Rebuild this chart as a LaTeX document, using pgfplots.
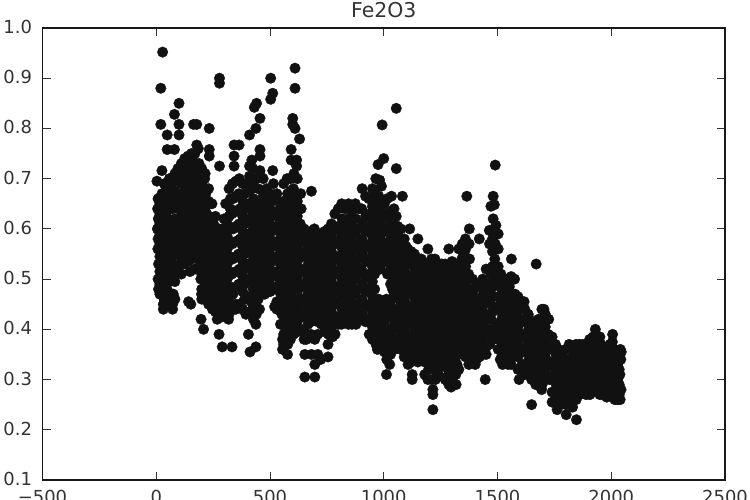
\documentclass[border=0pt]{standalone}
\usepackage{pgfplots}
\pgfplotsset{compat=1.18}
\usepackage{fontspec}
\setmainfont{DejaVu Sans}
\definecolor{txt}{HTML}{333333}
\definecolor{dot}{HTML}{111111}
\begin{document}
\begin{tikzpicture}[x=1bp,y=1bp]
\useasboundingbox (0,0) rectangle (750,500);
\begin{axis}[
  at={(42.5bp,20bp)},anchor=south west,
  scale only axis,width=682.5bp,height=452bp,
  xmin=-500,xmax=2500,ymin=0.1,ymax=1.0,
  xtick={-500,0,500,1000,1500,2000,2500},
  xticklabels={−500,0,500,1000,1500,2000,2500},
  ytick={0.1,0.2,0.3,0.4,0.5,0.6,0.7,0.8,0.9,1.0},
  yticklabels={0.1,0.2,0.3,0.4,0.5,0.6,0.7,0.8,0.9,1.0},
  tick align=inside,major tick length=8bp,
  tick style={draw=black!80,line width=0.8bp},
  axis line style={draw=black!90,line width=1.3bp},
  ticklabel style={font=\fontsize{18}{20}\selectfont,text=txt},
  yticklabel style={xshift=-7bp,yshift=1bp},
  xticklabel style={yshift=-7bp},
  title={Fe2O3},
  title style={font=\fontsize{20.5}{22}\selectfont,text=txt,at={(0.5,1)},anchor=base,yshift=5bp},
]
\addplot[only marks,mark=*,mark size=5.3bp,mark options={fill=dot,draw=dot,line width=0.3bp}] coordinates {
(28,.952)(20,.88)(100,.85)(80,.828)(100,.808)(100,.787)(20,.808)(48,.787)(48,.758)(80,.758)
(164,.808)(178,.808)(233,.80)(178,.767)(233,.758)(233,.745)(278,.725)(278,.90)(278,.89)
(503,.90)(512,.87)(503,.858)(441,.85)(431,.842)(456,.82)(438,.80)(410,.787)
(610,.92)(610,.88)(600,.82)(600,.808)(610,.80)(630,.779)(593,.758)(593,.737)(617,.737)(617,.725)
(682,.675)(342,.767)(364,.767)(342,.745)(342,.725)(456,.758)(456,.745)(420,.737)(410,.725)
(456,.716)(512,.716)(25,.716)(3,.695)
(31,.44)(72,.44)(31,.45)(72,.45)(10,.48)(75,.47)(142,.455)(152,.45)(148,.515)(170,.52)
(197,.42)(208,.40)(268,.42)(318,.42)(276,.39)(290,.365)(333,.365)(405,.39)(412,.355)(438,.365)(438,.41)
(477,.47)(520,.445)(555,.36)(577,.35)(555,.38)(653,.305)(697,.305)(653,.35)(682,.35)(697,.33)(755,.345)
(660,.38)(697,.38)(755,.37)(775,.385)(845,.41)(878,.41)(972,.36)(972,.38)
(1055,.84)(993,.807)(1000,.74)(975,.728)(1055,.72)(982,.697)(990,.685)(1082,.665)(1034,.665)
(1365,.665)(1490,.727)(1481,.665)(1486,.648)(1471,.645)(1481,.62)(1493,.607)(1464,.597)
(1376,.60)(1359,.58)(1420,.58)(1114,.60)(1150,.58)(1194,.56)(1286,.56)(1055,.625)(1062,.605)
(1561,.54)(1670,.53)(1617,.455)(1704,.44)(1650,.25)(1216,.24)(1847,.22)(1802,.23)(1762,.24)
(1125,.31)(1125,.30)(1012,.31)(1026,.33)(1216,.28)(1216,.27)(1296,.285)(1318,.29)(1402,.33)(1446,.30)
(1522,.33)(1595,.30)(1694,.28)(1930,.40)(2006,.39)
(8,.66)(6,.64)(9,.62)(5,.60)(8,.58)(7,.56)(10,.53)(8,.50)
(25,.67)(27,.65)(24,.61)(28,.58)(23,.55)(26,.52)(25,.49)
(45,.68)(47,.66)(43,.63)(46,.60)(44,.57)(48,.54)(45,.51)(47,.48)
(70,.69)(68,.66)(72,.64)(69,.60)(71,.57)(67,.54)(73,.51)(70,.47)
(95,.72)(97,.70)(93,.67)(96,.64)(94,.61)(98,.58)(95,.55)(92,.52)
(125,.74)(122,.71)(127,.68)(123,.65)(128,.62)(124,.59)(126,.56)(121,.53)
(155,.75)(157,.72)(153,.69)(158,.66)(154,.63)(156,.60)(152,.57)(157,.54)
(185,.76)(188,.73)(183,.70)(187,.67)(184,.64)(186,.61)(189,.58)(183,.55)(187,.52)(196,.50)(199,.47)
(215,.71)(213,.70)(218,.67)(214,.64)(216,.61)(212,.58)(217,.55)(214,.52)(216,.49)(213,.46)
(245,.65)(247,.62)(243,.59)(248,.56)(244,.53)(246,.50)(242,.47)(247,.44)
(275,.60)(273,.57)(278,.54)(274,.51)(276,.48)(272,.45)(277,.43)
(305,.65)(303,.59)(308,.56)(304,.53)(306,.50)(302,.47)(307,.44)
(335,.69)(337,.66)(333,.63)(338,.60)(334,.57)(336,.54)(332,.51)(337,.47)(334,.44)
(365,.70)(363,.67)(367,.64)(364,.61)(368,.58)(362,.55)(366,.52)(363,.49)(367,.45)
(395,.69)(397,.65)(393,.62)(396,.59)(394,.56)(398,.53)(392,.50)(396,.46)(394,.43)
(425,.72)(423,.69)(428,.66)(424,.63)(426,.60)(422,.57)(427,.54)(424,.51)(426,.48)(423,.45)(427,.42)
(455,.71)(457,.65)(453,.62)(458,.59)(454,.56)(456,.53)(452,.50)(457,.47)(454,.44)
(485,.68)(483,.65)(487,.62)(484,.59)(488,.56)(482,.53)(486,.50)
(515,.69)(517,.66)(513,.63)(518,.60)(514,.57)(516,.54)(512,.51)(517,.48)
(545,.65)(543,.62)(548,.59)(544,.56)(546,.53)(542,.50)(547,.47)(544,.44)(546,.41)
(575,.70)(577,.67)(573,.64)(578,.61)(574,.58)(576,.55)(572,.52)(577,.49)(574,.46)(576,.43)(573,.40)(578,.37)
(605,.71)(603,.68)(607,.65)(604,.62)(608,.59)(602,.56)(606,.53)(603,.50)(607,.47)(604,.44)(606,.41)(603,.39)
(635,.67)(637,.64)(633,.61)(638,.58)(634,.55)(636,.52)(632,.49)(637,.46)(634,.43)(636,.40)
(665,.59)(663,.56)(668,.53)(664,.50)(666,.47)(662,.44)(667,.41)
(695,.60)(697,.57)(693,.54)(698,.51)(694,.48)(696,.45)(692,.42)
(725,.59)(723,.56)(727,.53)(724,.50)(728,.47)(722,.44)(726,.41)(723,.34)
(755,.60)(757,.57)(753,.54)(758,.51)(754,.48)(756,.45)(752,.42)(757,.39)
(785,.63)(783,.60)(788,.57)(784,.54)(786,.51)(782,.48)(787,.45)(784,.42)(786,.39)
(815,.65)(817,.62)(813,.59)(818,.56)(814,.53)(816,.50)(812,.47)(817,.44)(814,.41)
(845,.65)(843,.62)(847,.59)(844,.56)(848,.53)(842,.50)(846,.47)(843,.44)
(875,.65)(877,.62)(873,.59)(878,.56)(874,.53)(876,.50)(872,.47)(877,.44)
(905,.68)(903,.64)(908,.61)(904,.58)(906,.55)(902,.52)(907,.49)(904,.46)(906,.43)
(935,.66)(937,.63)(933,.60)(938,.57)(934,.54)(936,.51)(932,.48)(937,.45)(934,.42)(936,.39)
(965,.70)(963,.67)(967,.64)(964,.61)(968,.58)(962,.55)(966,.52)(963,.46)(967,.43)(964,.40)(966,.37)
(990,.65)(992,.62)(988,.59)(993,.56)(989,.53)(991,.45)(987,.42)(992,.39)(989,.36)
(1015,.66)(1017,.63)(1013,.60)(1018,.57)(1014,.54)(1016,.51)(1012,.46)(1017,.43)(1014,.40)(1016,.37)(1013,.34)
(1045,.64)(1043,.62)(1047,.59)(1044,.56)(1048,.53)(1042,.50)(1046,.47)(1043,.44)(1047,.41)(1044,.38)(1046,.36)
(1075,.60)(1077,.57)(1073,.54)(1078,.51)(1074,.48)(1076,.45)(1072,.42)(1077,.39)(1074,.36)
(1105,.56)(1103,.53)(1107,.50)(1104,.47)(1108,.44)(1102,.41)(1106,.38)(1103,.35)(1107,.33)
(1135,.55)(1137,.52)(1133,.49)(1138,.46)(1134,.43)(1136,.40)(1132,.37)(1137,.34)
(1165,.54)(1163,.51)(1168,.48)(1164,.45)(1166,.42)(1162,.39)(1167,.36)(1164,.34)
(1195,.53)(1197,.50)(1193,.47)(1198,.44)(1194,.41)(1196,.38)(1192,.35)(1197,.32)(1194,.30)
(1225,.54)(1223,.51)(1227,.48)(1224,.45)(1228,.42)(1222,.39)(1226,.36)(1223,.33)(1227,.30)
(1255,.53)(1257,.50)(1253,.47)(1258,.44)(1254,.41)(1256,.38)(1252,.35)(1257,.33)
(1285,.52)(1283,.49)(1288,.46)(1284,.43)(1286,.40)(1282,.37)(1287,.34)(1284,.31)(1286,.29)
(1315,.52)(1317,.49)(1313,.46)(1318,.43)(1314,.40)(1316,.37)(1312,.34)(1317,.31)
(1345,.57)(1343,.54)(1347,.51)(1344,.48)(1348,.45)(1342,.42)(1346,.39)(1343,.36)
(1375,.57)(1377,.54)(1373,.51)(1378,.48)(1374,.45)(1376,.42)(1372,.39)(1377,.36)(1374,.33)
(1405,.46)(1403,.43)(1407,.40)(1404,.37)(1408,.34)
(1435,.50)(1437,.47)(1433,.44)(1438,.41)(1434,.38)(1436,.35)
(1465,.57)(1463,.52)(1467,.49)(1464,.46)(1468,.43)(1462,.40)(1466,.37)
(1490,.57)(1488,.54)(1492,.51)(1489,.49)
(1515,.51)(1517,.48)(1513,.45)(1518,.42)(1514,.39)(1516,.36)(1512,.34)
(1545,.50)(1543,.47)(1547,.44)(1544,.41)(1548,.38)(1542,.35)(1546,.33)
(1575,.50)(1577,.47)(1573,.44)(1578,.41)(1574,.38)(1576,.36)
(1605,.45)(1603,.42)(1607,.39)(1604,.36)(1608,.33)
(1635,.43)(1637,.40)(1633,.37)(1638,.34)(1634,.31)
(1665,.40)(1663,.37)(1667,.34)(1664,.31)(1668,.29)
(1695,.44)(1697,.41)(1693,.38)(1698,.35)(1694,.32)(1696,.29)
(1725,.42)(1723,.39)(1727,.36)(1724,.33)(1728,.30)
(1755,.37)(1757,.35)(1753,.32)(1758,.29)(1754,.26)
(1785,.35)(1783,.32)(1787,.29)(1784,.26)
(1815,.37)(1817,.34)(1813,.31)(1818,.28)(1814,.25)
(1845,.37)(1843,.34)(1847,.31)(1844,.28)(1846,.26)
(1875,.37)(1877,.34)(1873,.31)(1878,.28)
(1905,.38)(1903,.35)(1907,.32)(1904,.29)(1906,.27)
(1935,.37)(1937,.34)(1933,.31)(1938,.28)
(1965,.36)(1963,.33)(1967,.30)(1964,.27)
(1995,.37)(1997,.34)(1993,.31)(1998,.28)
(2015,.36)(2013,.33)(2017,.30)(2014,.27)(2016,.26)
(2040,.36)(2042,.34)(2038,.31)(2043,.28)(2039,.26)(2044,.355)
};
\addplot[only marks,mark=*,mark size=5.3bp,mark options={fill=dot,draw=dot,line width=0.3bp}] coordinates {
(16,.65)(16,.63)(16,.61)(16,.59)(16,.57)(16,.545)(16,.515)(16,.49)(16,.47)
(35,.69)(35,.66)(35,.63)(35,.60)(35,.565)(35,.535)(35,.505)(35,.475)(35,.46)
(58,.70)(58,.67)(58,.645)(58,.615)(58,.585)(58,.555)(58,.525)(58,.495)(58,.46)
(82,.71)(82,.675)(82,.65)(82,.62)(82,.585)(82,.555)(82,.525)(82,.495)(82,.46)
(110,.73)(110,.69)(110,.655)(110,.625)(110,.595)(110,.565)(110,.535)(110,.51)
(140,.745)(140,.715)(140,.685)(140,.655)(140,.625)(140,.595)(140,.565)(140,.535)
(170,.75)(170,.725)(170,.695)(170,.665)(170,.635)(170,.605)(170,.575)(170,.545)
(200,.72)(200,.69)(200,.66)(200,.63)(200,.60)(200,.57)(200,.54)(200,.51)(200,.48)(200,.46)
(230,.68)(230,.655)(230,.625)(230,.595)(230,.565)(230,.535)(230,.505)(230,.475)(230,.45)
(260,.625)(260,.60)(260,.575)(260,.545)(260,.515)(260,.485)(260,.455)(260,.435)
(290,.60)(290,.575)(290,.545)(290,.515)(290,.485)(290,.455)(290,.425)
(320,.68)(320,.625)(320,.575)(320,.545)(320,.515)(320,.485)(320,.455)(320,.43)
(350,.695)(350,.665)(350,.635)(350,.605)(350,.575)(350,.545)(350,.515)(350,.485)(350,.45)(350,.44)
(380,.69)(380,.655)(380,.625)(380,.595)(380,.565)(380,.535)(380,.505)(380,.475)(380,.44)
(410,.705)(410,.675)(410,.645)(410,.615)(410,.585)(410,.555)(410,.525)(410,.495)(410,.465)(410,.435)
(440,.70)(440,.655)(440,.625)(440,.595)(440,.565)(440,.535)(440,.505)(440,.475)(440,.445)(440,.43)
(470,.70)(470,.665)(470,.635)(470,.605)(470,.575)(470,.545)(470,.515)(470,.485)
(500,.67)(500,.64)(500,.61)(500,.58)(500,.55)(500,.52)(500,.49)(500,.475)
(530,.67)(530,.635)(530,.605)(530,.575)(530,.545)(530,.515)(530,.485)(530,.455)(530,.44)
(560,.69)(560,.655)(560,.625)(560,.595)(560,.565)(560,.535)(560,.505)(560,.475)(560,.445)(560,.415)(560,.39)(560,.37)
(590,.70)(590,.675)(590,.645)(590,.615)(590,.585)(590,.555)(590,.525)(590,.495)(590,.465)(590,.435)(590,.405)(590,.38)
(620,.70)(620,.655)(620,.625)(620,.595)(620,.565)(620,.535)(620,.505)(620,.475)(620,.445)(620,.415)(620,.395)
(650,.60)(650,.575)(650,.545)(650,.515)(650,.485)(650,.455)(650,.425)(650,.395)(650,.38)
(680,.595)(680,.565)(680,.535)(680,.505)(680,.475)(680,.445)(680,.415)(680,.39)
(710,.59)(710,.565)(710,.535)(710,.505)(710,.475)(710,.445)(710,.415)(710,.39)(710,.35)
(740,.595)(740,.565)(740,.535)(740,.505)(740,.475)(740,.445)(740,.415)(740,.395)
(770,.61)(770,.585)(770,.555)(770,.525)(770,.495)(770,.465)(770,.435)(770,.405)
(800,.64)(800,.605)(800,.575)(800,.545)(800,.515)(800,.485)(800,.455)(800,.425)(800,.41)
(830,.64)(830,.605)(830,.575)(830,.545)(830,.515)(830,.485)(830,.455)(830,.425)
(860,.635)(860,.605)(860,.575)(860,.545)(860,.515)(860,.485)(860,.455)(860,.425)(860,.41)
(890,.64)(890,.60)(890,.57)(890,.54)(890,.51)(890,.48)(890,.45)(890,.425)
(920,.665)(920,.625)(920,.595)(920,.565)(920,.535)(920,.505)(920,.475)(920,.445)(920,.415)
(950,.68)(950,.645)(950,.615)(950,.585)(950,.555)(950,.525)(950,.495)(950,.465)(950,.435)(950,.405)(950,.38)
(978,.665)(978,.635)(978,.605)(978,.575)(978,.545)(978,.46)(978,.43)(978,.40)(978,.38)
(1003,.65)(1003,.625)(1003,.595)(1003,.565)(1003,.535)(1003,.445)(1003,.415)(1003,.385)(1003,.355)
(1030,.635)(1030,.61)(1030,.58)(1030,.55)(1030,.52)(1030,.49)(1030,.455)(1030,.425)(1030,.39)(1030,.37)(1030,.35)
(1060,.59)(1060,.56)(1060,.53)(1060,.50)(1060,.47)(1060,.44)(1060,.41)(1060,.38)(1060,.365)
(1090,.58)(1090,.55)(1090,.52)(1090,.49)(1090,.46)(1090,.43)(1090,.40)(1090,.37)(1090,.345)
(1120,.555)(1120,.535)(1120,.505)(1120,.475)(1120,.445)(1120,.415)(1120,.385)(1120,.355)(1120,.335)
(1150,.54)(1150,.505)(1150,.475)(1150,.445)(1150,.415)(1150,.385)(1150,.355)(1150,.335)
(1180,.53)(1180,.505)(1180,.475)(1180,.445)(1180,.415)(1180,.385)(1180,.355)(1180,.335)(1180,.31)
(1210,.54)(1210,.505)(1210,.475)(1210,.445)(1210,.415)(1210,.385)(1210,.355)(1210,.325)(1210,.30)
(1240,.525)(1240,.505)(1240,.475)(1240,.445)(1240,.415)(1240,.385)(1240,.355)(1240,.325)(1240,.31)
(1270,.53)(1270,.505)(1270,.475)(1270,.445)(1270,.415)(1270,.385)(1270,.355)(1270,.325)(1270,.30)
(1300,.535)(1300,.505)(1300,.475)(1300,.445)(1300,.415)(1300,.385)(1300,.355)(1300,.325)(1300,.30)(1300,.29)
(1330,.56)(1330,.53)(1330,.50)(1330,.47)(1330,.44)(1330,.41)(1330,.38)(1330,.35)(1330,.32)
(1360,.56)(1360,.525)(1360,.495)(1360,.465)(1360,.435)(1360,.405)(1360,.375)(1360,.345)
(1390,.50)(1390,.47)(1390,.44)(1390,.41)(1390,.38)(1390,.35)(1390,.34)
(1420,.485)(1420,.455)(1420,.425)(1420,.395)(1420,.365)(1420,.345)
(1450,.52)(1450,.485)(1450,.455)(1450,.425)(1450,.395)(1450,.365)(1450,.35)
(1478,.58)(1478,.555)(1478,.525)(1478,.495)(1478,.465)(1478,.435)(1478,.40)(1478,.38)
(1503,.59)(1503,.56)(1503,.525)(1503,.495)(1503,.465)(1503,.44)(1503,.41)(1503,.38)(1503,.36)
(1530,.50)(1530,.465)(1530,.435)(1530,.405)(1530,.375)(1530,.345)(1530,.335)
(1560,.505)(1560,.465)(1560,.435)(1560,.405)(1560,.375)(1560,.35)(1560,.33)
(1590,.465)(1590,.435)(1590,.405)(1590,.375)(1590,.345)(1590,.32)
(1620,.44)(1620,.415)(1620,.385)(1620,.355)(1620,.325)(1620,.31)
(1650,.41)(1650,.385)(1650,.355)(1650,.325)(1650,.30)
(1680,.42)(1680,.395)(1680,.365)(1680,.335)(1680,.305)
(1710,.43)(1710,.405)(1710,.375)(1710,.345)(1710,.315)(1710,.30)
(1740,.385)(1740,.365)(1740,.335)(1740,.305)(1740,.275)(1740,.255)
(1770,.36)(1770,.335)(1770,.305)(1770,.275)(1770,.25)
(1800,.36)(1800,.335)(1800,.305)(1800,.275)(1800,.25)
(1830,.36)(1830,.325)(1830,.295)(1830,.265)(1830,.245)
(1860,.37)(1860,.355)(1860,.325)(1860,.295)(1860,.27)
(1890,.37)(1890,.345)(1890,.315)(1890,.285)(1890,.27)
(1920,.385)(1920,.355)(1920,.325)(1920,.295)(1920,.275)
(1950,.385)(1950,.355)(1950,.325)(1950,.295)(1950,.27)
(1980,.365)(1980,.345)(1980,.315)(1980,.285)(1980,.265)
(2005,.375)(2005,.345)(2005,.315)(2005,.285)(2005,.265)
(2028,.355)(2028,.33)(2028,.30)(2028,.27)(2028,.26)
};
\addplot[only marks,mark=*,mark size=5.3bp,mark options={fill=dot,draw=dot,line width=0.3bp}] coordinates {
(132,.725)(132,.695)(132,.665)(132,.635)(132,.605)(132,.575)(132,.545)
(162,.735)(162,.705)(162,.675)(162,.645)(162,.615)(162,.585)(162,.555)
(192,.715)(192,.685)(192,.655)(192,.625)(192,.595)(192,.565)(192,.535)
(388,.67)(388,.64)(388,.61)(388,.58)(388,.55)(388,.52)(388,.49)(388,.46)
(418,.68)(418,.65)(418,.62)(418,.59)(418,.56)(418,.53)(418,.50)(418,.46)
(448,.68)(448,.64)(448,.61)(448,.58)(448,.55)(448,.52)(448,.49)(448,.46)
(478,.65)(478,.62)(478,.59)(478,.56)(478,.53)(478,.50)
(508,.655)(508,.625)(508,.595)(508,.565)(508,.535)(508,.505)
(552,.64)(552,.61)(552,.58)(552,.55)(552,.52)(552,.49)(552,.46)(552,.43)
(582,.66)(582,.63)(582,.60)(582,.57)(582,.54)(582,.51)(582,.48)(582,.45)(582,.42)
(612,.665)(612,.635)(612,.605)(612,.575)(612,.545)(612,.515)(612,.485)(612,.455)(612,.425)
(672,.58)(672,.55)(672,.52)(672,.49)(672,.46)(672,.43)
(702,.58)(702,.55)(702,.52)(702,.49)(702,.46)(702,.43)
(732,.575)(732,.545)(732,.515)(732,.485)(732,.455)(732,.425)
(762,.585)(762,.555)(762,.525)(762,.495)(762,.465)(762,.435)
(1142,.53)(1142,.50)(1142,.47)(1142,.44)(1142,.41)(1142,.38)(1142,.35)
(1172,.525)(1172,.495)(1172,.465)(1172,.435)(1172,.405)(1172,.375)(1172,.345)
(1202,.52)(1202,.49)(1202,.46)(1202,.43)(1202,.40)(1202,.37)(1202,.34)
(1232,.525)(1232,.49)(1232,.46)(1232,.43)(1232,.40)(1232,.37)(1232,.34)(1232,.315)
(1262,.515)(1262,.49)(1262,.46)(1262,.43)(1262,.40)(1262,.37)(1262,.34)
(1292,.51)(1292,.48)(1292,.45)(1292,.42)(1292,.39)(1292,.36)(1292,.33)
(1322,.51)(1322,.48)(1322,.45)(1322,.42)(1322,.39)(1322,.36)(1322,.33)
(1352,.55)(1352,.52)(1352,.49)(1352,.46)(1352,.43)(1352,.40)(1352,.37)
(1522,.49)(1522,.46)(1522,.43)(1522,.40)(1522,.37)(1522,.35)
(1552,.485)(1552,.45)(1552,.42)(1552,.39)(1552,.365)(1552,.34)
(1582,.45)(1582,.42)(1582,.39)(1582,.365)
(1640,.42)(1640,.39)(1640,.36)(1640,.33)
(1672,.39)(1672,.35)(1672,.32)
(1702,.42)(1702,.39)(1702,.36)(1702,.33)(1702,.31)
(1770,.32)(1770,.29)(1770,.265)
(1800,.32)(1800,.29)(1800,.265)
(1830,.345)(1830,.31)(1830,.28)
(1862,.345)(1862,.31)(1862,.285)
(1892,.36)(1892,.33)(1892,.30)
(1925,.365)(1925,.34)(1925,.31)(1925,.285)
(1955,.37)(1955,.34)(1955,.31)(1955,.285)
(1985,.355)(1985,.325)(1985,.295)(1985,.275)
(2010,.355)(2010,.325)(2010,.295)(2010,.275)
(2035,.345)(2035,.32)(2035,.29)(2035,.27)
(222,.63)(222,.60)(222,.57)(222,.54)(222,.51)(222,.48)
(252,.61)(252,.58)(252,.55)(252,.52)(252,.49)(252,.46)
(282,.59)(282,.56)(282,.53)(282,.50)(282,.47)(282,.44)
(312,.61)(312,.585)(312,.56)(312,.53)(312,.50)(312,.47)(312,.44)
(326,.66)(326,.64)(326,.60)(298,.62)
(960,.66)(960,.63)(960,.60)(960,.57)(960,.54)(960,.51)(960,.48)(960,.45)(960,.42)(960,.39)
(985,.64)(985,.61)(985,.58)(985,.55)(985,.52)(985,.44)(985,.41)(985,.37)
(1038,.60)(1038,.57)(1038,.54)(1038,.51)(1038,.48)(1038,.44)(1038,.40)(1038,.37)
(1068,.58)(1068,.55)(1068,.52)(1068,.49)(1068,.46)(1068,.43)(1068,.40)(1068,.37)
(1098,.565)(1098,.54)(1098,.51)(1098,.48)(1098,.45)(1098,.42)(1098,.39)(1098,.36)
(1396,.48)(1396,.455)(1396,.425)(1396,.395)(1396,.365)
(1412,.49)(1412,.45)(1412,.42)(1412,.39)(1412,.36)
(1442,.49)(1442,.46)(1442,.43)(1442,.40)(1442,.37)
(1472,.51)(1472,.48)(1472,.45)(1472,.42)(1472,.39)
(50,.65)(50,.62)(50,.59)(50,.56)(50,.53)(50,.50)
(30,.64)(30,.60)(30,.57)(30,.54)(30,.51)
};
\end{axis}
\end{tikzpicture}
\end{document}
